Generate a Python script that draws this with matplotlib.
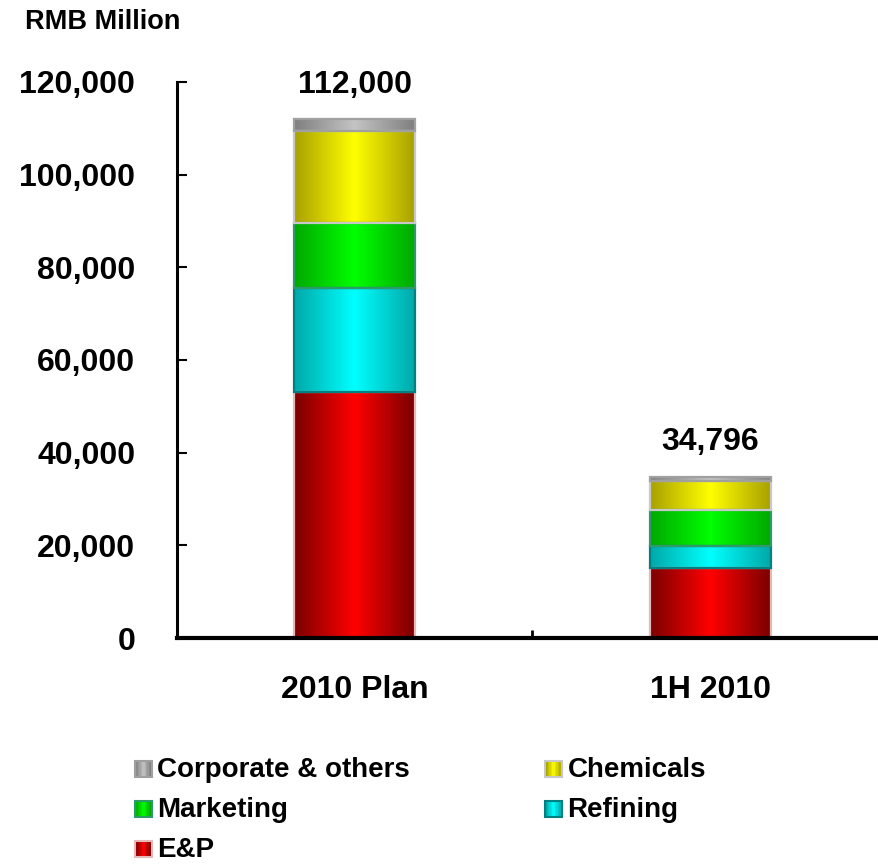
import numpy as np
import matplotlib
matplotlib.use("Agg")
import matplotlib.pyplot as plt
from matplotlib.colors import LinearSegmentedColormap
from matplotlib.patches import Rectangle
from matplotlib.legend_handler import HandlerBase
from matplotlib.ticker import FuncFormatter

plt.rcParams['font.family'] = ['Liberation Sans', 'DejaVu Sans']
plt.rcParams['font.weight'] = 'bold'

# data (RMB million)
categories = ['2010 Plan', '1H 2010']
segments = ['E&P', 'Refining', 'Marketing', 'Chemicals', 'Corporate & others']
ep = [53100, 15104]
refining = [22400, 4766]
marketing = [14100, 7730]
chemicals = [19900, 6290]
corporate = [2500, 906]
totals = ['112,000', '34,796']

# dark edge / bright centre colours for each segment
dark = ['#7a0000', '#00a8a8', '#00a800', '#a8a000', '#7f7f7f']
bright = ['#ff0000', '#00ffff', '#00ff00', '#ffff00', '#c4c4c4']
edges = ['#e6b8b8', '#008080', '#2e9a6a', '#c8c8c8', '#a0a0a0']

cmaps = [LinearSegmentedColormap.from_list('g%d' % i, [(0, d), (0.5, b), (1, d)])
         for i, (d, b) in enumerate(zip(dark, bright))]
grad = np.linspace(0, 1, 256).reshape(1, -1)

fig = plt.figure(figsize=(8.79, 8.64), dpi=100)
ax = fig.add_axes([177 / 879, 226 / 864, 711 / 879, 556 / 864])

x = np.arange(len(categories))
width = 0.34
bottom = np.zeros(len(categories))
for i, vals in enumerate([ep, refining, marketing, chemicals, corporate]):
    bars = ax.bar(x, vals, width, bottom=bottom, facecolor='none',
                  edgecolor=edges[i], linewidth=1.6, zorder=3)
    for p in bars:
        x0, y0 = p.get_x(), p.get_y()
        ax.imshow(grad, cmap=cmaps[i], aspect='auto', zorder=2,
                  extent=(x0, x0 + p.get_width(), y0, y0 + p.get_height()))
    bottom += np.array(vals)

for xi, top, lab in zip(x, bottom, totals):
    ax.annotate(lab, (xi, top), xytext=(0, 14), textcoords='offset points',
                ha='center', va='bottom', fontsize=23, fontweight='bold')

ax.set_xlim(-0.5, 1.5)
ax.set_ylim(0, 120000)
ax.set_yticks(np.arange(0, 120001, 20000))
ax.yaxis.set_major_formatter(FuncFormatter(lambda v, p: '{:,.0f}'.format(v)))
ax.set_xticks(x)
ax.set_xticklabels(categories)
ax.set_xticks([0.5], minor=True)
ax.tick_params(axis='y', direction='in', length=7, width=1.5, pad=30, labelsize=23)
ax.tick_params(axis='x', which='major', length=0, pad=27, labelsize=23)
ax.tick_params(axis='x', which='minor', direction='in', length=6, width=2)
for s in ['top', 'right']:
    ax.spines[s].set_visible(False)
ax.spines['left'].set_linewidth(2.2)
ax.spines['bottom'].set_linewidth(3)
ax.spines['bottom'].set_zorder(4)

fig.text(25 / 879, 1 - 22 / 864, 'RMB Million', fontsize=19.5, fontweight='bold',
         va='center', ha='left')


class GradHandler(HandlerBase):
    def __init__(self, idx):
        super().__init__()
        self.idx = idx

    def create_artists(self, legend, orig, xd, yd, w, h, fs, trans):
        s = min(w, h) * 1.0
        x0 = xd + (w - s) / 2
        y0 = yd + (h - s) / 2
        arts = []
        n = 12
        cols = cmaps[self.idx](np.linspace(0, 1, n))
        for k in range(n):
            arts.append(Rectangle((x0 + k * s / n, y0), s / n + 0.3, s,
                                  facecolor=cols[k], edgecolor='none', transform=trans))
        arts.append(Rectangle((x0, y0), s, s, facecolor='none',
                              edgecolor=edges[self.idx], linewidth=1.5, transform=trans))
        return arts


order = [4, 2, 0, 3, 1]
handles = [Rectangle((0, 0), 1, 1) for _ in order]
labels = [segments[i] for i in order]
fig.legend(handles, labels, ncol=2, loc='upper left',
           bbox_to_anchor=(110 / 879, 1 - 732 / 864), frameon=False,
           prop={'size': 20, 'weight': 'bold'}, handlelength=0.6, handleheight=0.6,
           handletextpad=0.2, columnspacing=4.87, labelspacing=0.5,
           handler_map={h: GradHandler(i) for h, i in zip(handles, order)})

fig.savefig('out.png', dpi=100)
